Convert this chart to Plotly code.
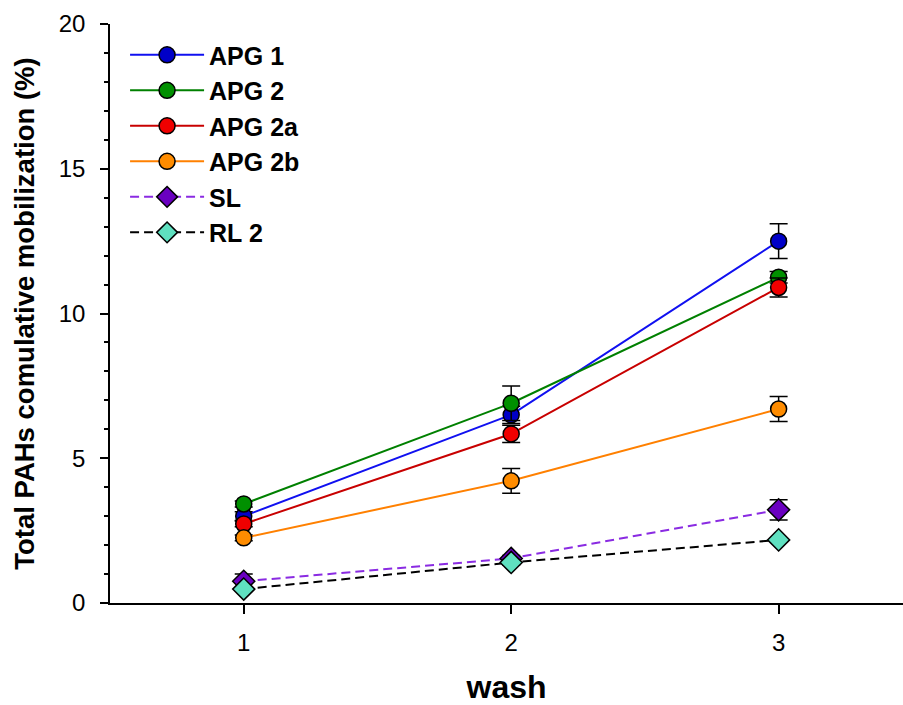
import plotly.graph_objects as go

wash = [1, 2, 3]
series_names = ["APG 1", "APG 2", "APG 2a", "APG 2b", "SL", "RL 2"]
apg1 = [3.0, 6.5, 12.5]
apg1_err = [0.15, 0.3, 0.6]
apg2 = [3.42, 6.9, 11.25]
apg2_err = [0.1, 0.6, 0.2]
apg2a = [2.73, 5.84, 10.9]
apg2a_err = [0.1, 0.3, 0.33]
apg2b = [2.25, 4.22, 6.7]
apg2b_err = [0.1, 0.43, 0.43]
sl = [0.75, 1.54, 3.22]
sl_err = [0.25, 0.1, 0.35]
rl2 = [0.48, 1.4, 2.18]
rl2_err = [0.05, 0.1, 0.05]

values = [apg1, apg2, apg2a, apg2b, sl, rl2]
errors = [apg1_err, apg2_err, apg2a_err, apg2b_err, sl_err, rl2_err]
line_colors = ["#1010f0", "#008000", "#c80000", "#ff8000", "#8a2be2", "#000000"]
marker_colors = ["#0000c8", "#009000", "#f00000", "#ff8c00", "#6a00c0", "#5fe0c0"]
symbols = ["circle", "circle", "circle", "circle", "diamond", "diamond"]
dashes = ["solid", "solid", "solid", "solid", "9px,5px", "9px,5px"]

fig = go.Figure()
for name, y, e, lc, mc, sym, d in zip(series_names, values, errors, line_colors,
                                       marker_colors, symbols, dashes):
    fig.add_trace(go.Scatter(
        x=wash, y=y, name=name, mode="lines+markers",
        line=dict(color=lc, width=2, dash=d),
        marker=dict(symbol=sym, size=16 if sym == "circle" else 17, color=mc,
                    line=dict(color="black", width=1.5)),
        error_y=dict(type="data", array=e, visible=True, color="black",
                     thickness=1.5, width=9),
    ))

fig.update_layout(
    width=903, height=705,
    margin=dict(l=110, r=0, t=24, b=102),
    paper_bgcolor="white", plot_bgcolor="white",
    font=dict(family="Liberation Sans, Arial, sans-serif", color="black"),
    showlegend=True,
    legend=dict(x=0.019, y=0.986, xanchor="left", yanchor="top",
                font=dict(size=25, family="Liberation Sans, Arial, sans-serif",
                          weight="bold"),
                bgcolor="rgba(0,0,0,0)", tracegroupgap=0, itemwidth=74),
)
fig.update_xaxes(
    range=[0.5, 3.465], tickvals=wash, ticktext=["1", "2", "3"],
    showline=True, linecolor="black", linewidth=1.5, ticks="outside",
    ticklen=9, tickwidth=1.5, tickcolor="black", showgrid=False, zeroline=False,
    tickfont=dict(size=24), ticklabelstandoff=8,
    title=dict(text="wash", font=dict(size=32, weight="bold"), standoff=26),
)
fig.update_yaxes(
    range=[0, 20], tickvals=[0, 5, 10, 15, 20],
    showline=True, linecolor="black", linewidth=1.5, ticks="outside",
    ticklen=8, tickwidth=1.5, tickcolor="black", showgrid=False, zeroline=False,
    tickfont=dict(size=24), ticklabelstandoff=10,
    minor=dict(dtick=1, ticks="outside", ticklen=4, tickwidth=1.5,
               tickcolor="black", showgrid=False),
    title=dict(text="Total PAHs comulative mobilization (%)",
               font=dict(size=27.5, weight="bold"), standoff=16),
)

fig.write_html("out.html")
